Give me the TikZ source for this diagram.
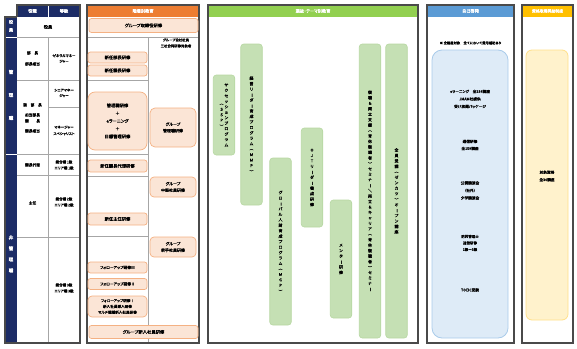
\documentclass[tikz,border=0pt]{standalone}
\usepackage{fontspec}
\setmainfont{Noto Sans CJK JP}[RawFeature=+palt, AutoFakeBold=1.2]
\usepackage{graphicx}
\usepackage{tikz}
\usetikzlibrary{positioning}
\definecolor{navy}{HTML}{1C2C66}
\definecolor{framegray}{HTML}{4A4A4A}
\definecolor{gridgray}{HTML}{A6A6A6}
\definecolor{orghead}{HTML}{ED7D31}
\definecolor{orgfill}{HTML}{FBE5D6}
\definecolor{orgline}{HTML}{F4B183}
\definecolor{grnhead}{HTML}{92D050}
\definecolor{grnfill}{HTML}{C5E0B4}
\definecolor{grnline}{HTML}{B7D7A2}
\definecolor{bluhead}{HTML}{5B9BD5}
\definecolor{blufill}{HTML}{DEEBF7}
\definecolor{bluline}{HTML}{A9CBEA}
\definecolor{ylwhead}{HTML}{FFC000}
\definecolor{ylwfill}{HTML}{FFF2CC}
\definecolor{ylwline}{HTML}{FFE08A}

% vertical (tategaki) column of characters
\ExplSyntaxOn
\cs_new_protected:Npn \tate_column:n #1
 {
  \baselineskip=1.4em \lineskiplimit=-100pt
  \tl_map_inline:nn {#1}
   {
    \hbox_to_wd:nn {1.1em}
     {
      \hss
      \tl_if_in:nnTF {ー（）／} {##1}
       { \rotatebox[origin=c]{-90}{##1} }
       { ##1 }
      \hss
     }
   }
 }
\NewDocumentCommand\tatecol{m}{ \ensuremath{\vcenter{ \tate_column:n {#1} }} }
\ExplSyntaxOff

\begin{document}
\begin{tikzpicture}[x=1pt, y=-1pt,
  font=\bfseries\fontsize{3.6}{4.8}\selectfont,
  hdr/.style={text=white, font=\bfseries\fontsize{4.2}{5}\selectfont},
  side/.style={text=white, align=center},
  colframe/.style={draw=framegray, line width=1.2pt},
  grid/.style={draw=gridgray, line width=0.5pt},
  lbl/.style={align=center, inner sep=0pt},
  obox/.style={draw=orgline, fill=orgfill, rounded corners=2.5pt, line width=0.7pt,
               align=center, inner sep=0pt, minimum width=59pt, font=\bfseries\fontsize{4.3}{5}\selectfont},
  gbox/.style={draw=grnline, fill=grnfill, rounded corners=3pt, line width=0.6pt,
               inner sep=0pt, minimum width=21.5pt, font=\bfseries\fontsize{3.9}{5}\selectfont},
  bbox/.style={draw=bluline, fill=blufill, rounded corners=10pt, line width=0.8pt},
  ybox/.style={draw=ylwline, fill=ylwfill, rounded corners=6pt, line width=0.8pt}
]
  \useasboundingbox (0,0) rectangle (577,348);

  % ---- 役職・等級
  \fill[navy] (17,5) rectangle (80,17);
  \fill[navy] (5,17) rectangle (17,343);
  \draw[white, line width=0.6pt] (48,5) -- (48,17);
  \draw[white, line width=0.8pt] (5,37) -- (17,37);
  \draw[white, line width=1.4pt] (5,154.5) -- (17,154.5);
  \draw[grid] (17,37) -- (80,37) (17,80) -- (80,80) (17,154.5) -- (80,154.5)
              (17,175) -- (80,175) (17,237) -- (80,237)
              (48,37) -- (48,343) (48,107) -- (80,107);
  \draw[colframe] (17,17) -- (17,5) -- (80,5) -- (80,343) -- (5,343) -- (5,17) -- (17,17);
  \node[hdr] (hyaku) at (32.5,11) {役職};
  \node[hdr] (htou)  at (64,11)   {等級};
  \node[side, font=\bfseries\fontsize{4.2}{8}\selectfont]  (syakuin) at (11,26)  {役\\員};
  \node[side, font=\bfseries\fontsize{4.6}{23}\selectfont] (skanri)  at (11,95)  {管\\理\\職};
  \node[side, font=\bfseries\fontsize{4.6}{11}\selectfont] (shikan)  at (11,254) {非\\管\\理\\職};

  \node[lbl, font=\bfseries\fontsize{4.2}{5}\selectfont] (tyakuin) at (48,27) {役員};
  \node[lbl, font=\bfseries\fontsize{3.7}{11}\selectfont] (tbucho) at (32.5,58.5) {部　長\\部長相当};
  \node[lbl, font=\bfseries\fontsize{3.5}{5.5}\selectfont] (tgm) at (64,58.5) {ゼネラルマネー\\ジャー};
  \node[lbl, font=\bfseries\fontsize{3.7}{6}\selectfont] (tjicho) at (32.5,118) {副　部　長\\[4pt]担当部長\\課　　長\\[4pt]課長相当};
  \node[lbl, font=\bfseries\fontsize{3.5}{5.5}\selectfont] (tsm) at (64,93) {シニアマネー\\ジャー};
  \node[lbl, font=\bfseries\fontsize{3.5}{6.5}\selectfont] (tmgr) at (64,130.5) {マネージャー\\スペシャリスト};
  \node[lbl, font=\bfseries\fontsize{3.7}{6}\selectfont] (tdairi) at (32.5,165) {課長代理};
  \node[lbl, font=\bfseries\fontsize{3.5}{6}\selectfont] (tkyu1) at (64,165) {総合職 1級\\エリア職 1級};
  \node[lbl, font=\bfseries\fontsize{3.7}{6}\selectfont] (tshunin) at (32.5,203) {主任};
  \node[lbl, font=\bfseries\fontsize{3.5}{6}\selectfont] (tkyu2) at (64,202) {総合職 2級\\エリア職 2級};
  \node[lbl, font=\bfseries\fontsize{3.5}{6}\selectfont] (tkyu3) at (64,288) {総合職 3級\\エリア職 3級};

  % ---- 階層別教育
  \fill[orghead] (87,5) rectangle (199,17);
  \draw[grid] (87,37) -- (199,37) (148,37) -- (148,343)
              (87,80) -- (148,80) (87,154.5) -- (148,154.5)
              (87,176) -- (148,176) (87,236) -- (148,236);
  \draw[colframe] (87,5) rectangle (199,343);
  \node[hdr] (hkaisou) at (143,11) {階層別教育};

  \node[obox, minimum width=109pt, minimum height=14pt] (otori) at (143.5,25.5) {グループ取締役研修};
  \node[obox, minimum height=11pt] (obucho)  at (117.5,57.5) {新任部長研修};
  \node[obox, minimum height=11pt] (okacho)  at (117.5,70.5) {新任課長研修};
  \node[obox, minimum height=58pt, rounded corners=7pt,
        font=\bfseries\fontsize{4.3}{7.75}\selectfont] (okanri) at (117.5,121)
        {管理職研修\\＋\\eラーニング\\＋\\目標管理研修};
  \node[obox, minimum height=12pt] (odairi)  at (117.5,166) {新任課長代理研修};
  \node[obox, minimum height=12pt] (oshunin) at (117.5,219) {新任主任研修};
  \node[obox, minimum height=11pt, font=\bfseries\fontsize{3.8}{5}\selectfont] (ofu3) at (117.5,267.5) {フォローアップ研修Ⅲ};
  \node[obox, minimum height=11pt, font=\bfseries\fontsize{3.8}{5}\selectfont] (ofu2) at (117.5,284)   {フォローアップ研修Ⅱ};
  \node[obox, minimum height=21pt, rounded corners=4pt,
        font=\bfseries\fontsize{3.6}{5.8}\selectfont] (ofu1) at (117.5,306.5)
        {フォローアップ研修Ⅰ\\新入社員導入研修\\マルチ職種新入社員研修};
  \node[obox, minimum width=109pt, minimum height=13pt] (oshinnyu) at (143.5,332) {グループ新入社員研修};

  \node[lbl, font=\bfseries\fontsize{3.4}{6}\selectfont] (ogaisha) at (176,43) {グループ会社社員\\三社合同研修対象者};
  \node[obox, minimum width=46pt, minimum height=39pt, rounded corners=5pt,
        font=\bfseries\fontsize{4}{6.5}\selectfont] (ogkanri) at (173,127.5) {グループ\\管理職研修};
  \node[obox, minimum width=46pt, minimum height=20pt, rounded corners=4pt,
        font=\bfseries\fontsize{4}{6.5}\selectfont] (ogchuken) at (173,187) {グループ\\中堅社員研修};
  \node[obox, minimum width=46pt, minimum height=20pt, rounded corners=4pt,
        font=\bfseries\fontsize{4}{6.5}\selectfont] (ogwakate) at (173,247) {グループ\\若手社員研修};

  % ---- 選抜・テーマ別教育
  \fill[grnhead] (208,5) rectangle (418,17);
  \draw[colframe] (208,5) rectangle (418,343);
  \node[hdr] (hsenbatsu) at (313,11) {選抜・テーマ別教育};

  \node[gbox, minimum height=80pt]  (gssp) at (224,115)
       {\tatecol{（ＳＳＰ）}\hspace{0.5pt}\tatecol{サクセッションプログラム}};
  \node[gbox, minimum height=161pt] (gmmp) at (251.5,124.5) {\tatecol{経営リーダー育成プログラム（ＭＭＰ）}};
  \node[gbox, minimum height=167pt] (gmgp) at (280.5,241.5) {\tatecol{グローバル人財育成プログラム（ＭＧＰ）}};
  \node[gbox, minimum height=99pt]  (gojt) at (312,177.5)   {\tatecol{ＯＪＴリーダー養成研修}};
  \node[gbox, minimum height=118pt] (gmentor) at (341,259)  {\tatecol{メンター研修}};
  \node[gbox, minimum height=294pt] (gryoritsu) at (370,191)
       {\tatecol{復職＆両立支援（育休復職者）セミナー／両立＆キャリア（育休復職者）セミナー}};
  \node[gbox, minimum height=294pt] (gzenin) at (396.5,191) {\tatecol{全員受講（ゼンカツ）オープン講座}};

  % ---- 自己啓発
  \fill[bluhead] (427,5) rectangle (514,17);
  \draw[colframe] (427,5) rectangle (514,343);
  \node[hdr] (hjiko) at (470.5,11) {自己啓発};
  \node[lbl, font=\bfseries\fontsize{3.3}{4}\selectfont] (jnote) at (470.5,43) {※ 全階層対象　全てにおいて費用補助あり};
  \node[bbox, minimum width=76pt, minimum height=288pt] (jbox) at (470,194) {};
  \node[lbl, font=\bfseries\fontsize{3.7}{7.5}\selectfont] (jelearn) at (470,99) {eラーニング　全254講座\\JMAM社提供\\受け放題パッケージ};
  \node[lbl, font=\bfseries\fontsize{3.7}{7}\selectfont] (jtsushin) at (470,145) {通信研修\\全159講座};
  \node[lbl, font=\bfseries\fontsize{3.7}{7.5}\selectfont] (jkoen) at (470,190.5) {公開講演会\\（社外）\\夕学講演会};
  \node[lbl, font=\bfseries\fontsize{3.5}{6.5}\selectfont] (jshikaku) at (470,243) {防災管理士\\通信研修\\1級〜3級};
  \node[lbl, font=\bfseries\fontsize{3.7}{5}\selectfont] (jtoeic) at (470,290) {TOEIC受験};

  % ---- 資格取得奨励制度
  \fill[ylwhead] (522,5) rectangle (573,17);
  \draw[colframe] (522,5) rectangle (573,343);
  \node[hdr, font=\bfseries\fontsize{3.9}{5}\selectfont] (hshikaku) at (547.5,11) {資格取得奨励制度};
  \node[ybox, minimum width=42pt, minimum height=270pt] (sbox) at (547,185) {};
  \node[lbl, font=\bfseries\fontsize{3.7}{7.5}\selectfont] (staisho) at (547,176) {対象資格\\全30講座};
\end{tikzpicture}
\end{document}
